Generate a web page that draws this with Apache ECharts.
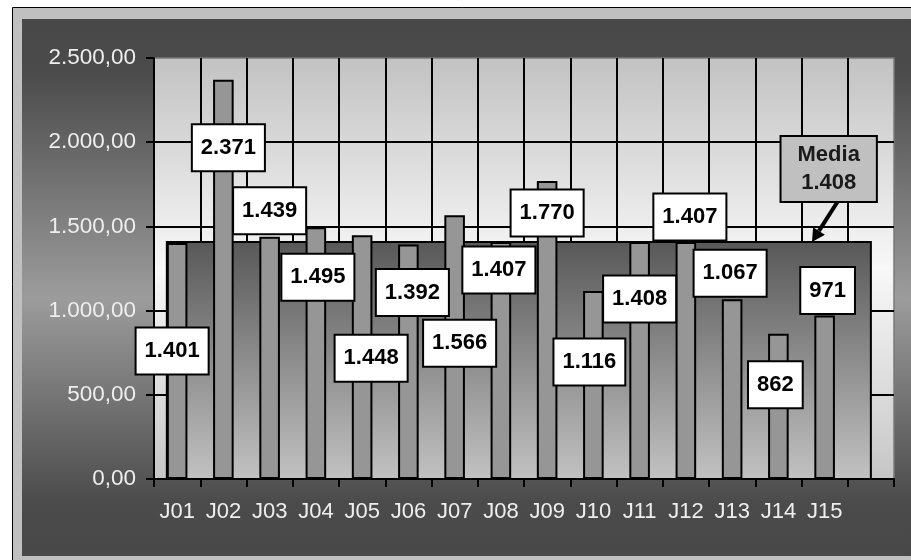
<!DOCTYPE html>
<html>
<head>
<meta charset="utf-8">
<script src="https://cdn.jsdelivr.net/npm/echarts@6.0.0/dist/echarts.min.js"></script>
<style>
  html, body { margin: 0; padding: 0; background: #fff; }
  #chart { width: 911px; height: 560px; }
</style>
</head>
<body>
<div id="chart"></div>
<script>
// 数据
const categories = ["J01", "J02", "J03", "J04", "J05", "J06", "J07", "J08", "J09", "J10", "J11", "J12", "J13", "J14", "J15", ""];
const values = [1401, 2371, 1439, 1495, 1448, 1392, 1566, 1407, 1770, 1116, 1408, 1407, 1067, 862, 971];
const mediaValue = 1408;
const yMin = 0;
const yMax = 2500;
const yStep = 500;

// label boxes are placed by hand in the original, offset from the bar top
const labelShift = [
    [-5, 108], [5, 68], [0, -26], [2, 50], [9, 123], [4, 48], [5, 128], [-2, 28],
    [0, 32], [-4, 71], [0, 57], [4, -25], [-2, -26], [-3, 51], [3, -25],
];

const FONT = "'Liberation Sans', Arial, sans-serif";
const barRatio = 0.445;

const fmtNum = (v, dec) => {
    const parts = v.toFixed(dec).split(".");
    const s = parts[0].replace(/\B(?=(\d{3})+(?!\d))/g, ".");
    return parts[1] ? s + "," + parts[1] : s;
};

const vGrad = (stops) => new echarts.graphic.LinearGradient(0, 0, 0, 1,
    stops.map(([offset, color]) => ({ offset, color })));

const chart = echarts.init(document.getElementById("chart"), null, { renderer: "canvas" });

chart.setOption({
    animation: false,
    backgroundColor: "#fff",
    grid: {
        left: 154,
        right: 17,
        top: 58,
        bottom: 81,
        show: true,
        backgroundColor: vGrad([[0, "#c2c2c2"], [0.5, "#f8f8f8"], [1, "#c6c6c6"]]),
        borderColor: "#7a7a7a",
        borderWidth: 1.5,
    },
    xAxis: {
        type: "category",
        data: categories,
        boundaryGap: true,
        axisLine: { lineStyle: { color: "#000", width: 2 } },
        axisTick: { show: true, length: 8, lineStyle: { color: "#000", width: 2 } },
        axisLabel: { color: "#eeeeee", fontSize: 22, fontFamily: FONT, margin: 22 },
        splitLine: { show: true, showMaxLine: false, lineStyle: { color: "#000", width: 2 } },
    },
    yAxis: {
        type: "value",
        min: yMin,
        max: yMax,
        interval: yStep,
        axisLine: { show: true, lineStyle: { color: "#000", width: 2 } },
        axisTick: { show: true, length: 8, lineStyle: { color: "#000", width: 2 } },
        axisLabel: {
            color: "#eeeeee",
            fontSize: 22.5,
            fontFamily: FONT,
            margin: 18,
            formatter: (v) => fmtNum(v, 2),
        },
        splitLine: { show: true, showMaxLine: false, lineStyle: { color: "#000", width: 2 } },
    },
    series: [
        {
            // 平均值区域
            name: "Media",
            type: "custom",
            z: 1,
            data: [[0, mediaValue]],
            encode: { x: 0, y: 1 },
            renderItem: (params, api) => {
                const top = api.coord([0, api.value(1)]);
                const base = api.coord([0, yMin]);
                const catW = api.size([1, 0])[0];
                const x0 = top[0] - (catW * barRatio) / 2;
                const x1 = api.coord([categories.length - 1, yMin])[0];
                return {
                    type: "rect",
                    shape: { x: x0, y: top[1], width: x1 - x0, height: base[1] - top[1] },
                    style: {
                        fill: vGrad([[0, "#585858"], [1, "#c2c2c2"]]),
                        stroke: "#000",
                        lineWidth: 2,
                    },
                };
            },
        },
        {
            name: "Valor",
            type: "bar",
            z: 2,
            barWidth: (barRatio * 100).toFixed(1) + "%",
            data: values.concat([null]),
            itemStyle: { color: "#969696", borderColor: "#000", borderWidth: 2 },
        },
        {
            // 数值标注
            name: "Etiquetas",
            type: "scatter",
            z: 5,
            symbolSize: 1,
            itemStyle: { color: "rgba(0,0,0,0)", opacity: 1 },
            emphasis: { disabled: true },
            data: values.map((v, i) => ({
                value: [i, v],
                label: { offset: labelShift[i] },
            })),
            label: {
                show: true,
                position: "inside",
                formatter: (p) => fmtNum(p.value[1], 0),
                fontFamily: FONT,
                fontSize: 22,
                fontWeight: "bold",
                color: "#000",
                opacity: 1,
                backgroundColor: "#fff",
                borderColor: "#000",
                borderWidth: 2,
                padding: [12, 8, 11, 8],
            },
        },
    ],
    graphic: [
        {
            id: "frame",
            type: "rect",
            z: -10,
            silent: true,
            shape: { x: 12.5, y: 7.5, width: 920, height: 570 },
            style: { fill: "#c0c0c0", stroke: "#000", lineWidth: 1 },
        },
        {
            id: "bg",
            type: "rect",
            z: -9,
            silent: true,
            shape: { x: 22, y: 19, width: 900, height: 537 },
            style: {
                fill: vGrad([[0, "#484848"], [0.1, "#4b4b4b"], [0.52, "#9c9c9c"], [0.9, "#4b4b4b"], [1, "#484848"]]),
            },
        },
    ],
});

// Media 标注框与箭头
const tipY = chart.convertToPixel({ yAxisIndex: 0 }, mediaValue);
const tip = [812, tipY];
const tail = [838, 201];
const ang = Math.atan2(tip[1] - tail[1], tip[0] - tail[0]);
const headLen = 13;
const headW = 7;
const back = [tip[0] - headLen * Math.cos(ang), tip[1] - headLen * Math.sin(ang)];
const perp = [-Math.sin(ang), Math.cos(ang)];

chart.setOption({
    graphic: [
        {
            id: "arrowLine",
            type: "line",
            z: 100,
            silent: true,
            shape: { x1: tail[0], y1: tail[1], x2: back[0], y2: back[1] },
            style: { stroke: "#000", lineWidth: 4 },
        },
        {
            id: "arrowHead",
            type: "polygon",
            z: 100,
            silent: true,
            shape: {
                points: [
                    tip,
                    [back[0] + perp[0] * headW, back[1] + perp[1] * headW],
                    [back[0] - perp[0] * headW, back[1] - perp[1] * headW],
                ],
            },
            style: { fill: "#000" },
        },
        {
            id: "mediaLabel",
            type: "text",
            z: 100,
            silent: true,
            x: 828.7,
            y: 169,
            style: {
                text: "Media\n" + fmtNum(mediaValue, 0),
                font: "bold 22px " + FONT,
                fill: "#1a1a1a",
                align: "center",
                verticalAlign: "middle",
                lineHeight: 28,
                backgroundColor: "#c0c0c0",
                borderColor: "#000",
                borderWidth: 2,
                padding: [4, 16],
            },
        },
    ],
});

window.addEventListener("resize", () => chart.resize());
</script>
</body>
</html>
